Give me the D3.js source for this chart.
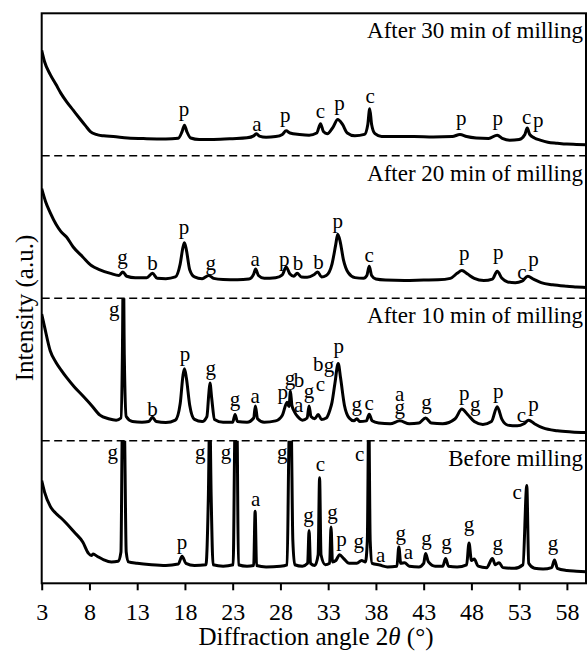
<!DOCTYPE html>
<html>
<head>
<meta charset="utf-8">
<script src="https://cdn.jsdelivr.net/npm/d3@7"></script>
<style>
  body { margin: 0; background: #fff; }
  svg text { font-family: "Liberation Serif", "Times New Roman", serif !important; fill: #000; }
</style>
</head>
<body>
<div id="chart"></div>
<script>
// panel order: top to bottom
const panelTitles = ["After 30 min of milling", "After 20 min of milling", "After 10 min of milling", "Before milling"];

// [2theta, intensity], 0..100 = one panel height
const trace30 = [[3,74],[3.3,66],[3.9,57],[4.5,50],[5.0,44],[5.6,38],[6.3,32],[7.0,26],[7.6,21],[8.1,17],[8.7,15],[9.5,14],[10.5,13.5],[12,12.5],[14,12],[16,11.8],[17.3,12.3],[17.7,17],[17.95,21.5],[18.2,17],[18.6,12.5],[19.5,11.5],[21,11.5],[23,12],[24.5,12.6],[25.2,14],[25.5,15.5],[25.8,13.8],[26.5,13],[27.5,13.5],[28.2,15],[28.6,17.5],[29.0,16],[30,15],[31,14.5],[31.8,16],[32.2,22.5],[32.5,17],[32.9,15.5],[33.5,20],[34.0,25.5],[34.5,22],[35.0,16],[35.8,14],[36.8,15],[37.15,22],[37.35,33],[37.55,22],[37.9,15.5],[38.6,13.5],[40,13.5],[42,13.5],[44,13.2],[46,13.5],[46.8,15],[47.5,13.5],[48.5,12.5],[49.8,12.2],[50.7,14.5],[51.3,12],[52,11],[53,11.5],[53.6,15],[53.85,19.5],[54.1,15],[54.6,12.5],[55.2,11],[56,9.5],[57,8.8],[58,8.2],[59,8],[60,7.8]];

const trace20 = [[3,77],[3.4,68],[3.9,60],[4.5,52],[5.0,47],[5.6,43],[6.3,36],[7.3,29],[8.2,23],[9.1,20],[10.2,17.5],[11.1,16],[11.5,18.5],[11.9,15.5],[12.8,14.5],[14,14.5],[14.6,17.5],[15.1,14],[16,13.8],[17.0,15],[17.5,24],[17.8,36],[17.95,39],[18.15,34],[18.5,20],[19,15],[19.8,13.8],[20.5,16],[21.0,14],[22,13.2],[23.5,13],[24.7,13.5],[25.2,17],[25.4,20.5],[25.7,16],[26.3,14],[27.5,14.5],[28.2,16.5],[28.6,22],[29.0,17],[29.4,15.5],[29.75,17.5],[30.2,15],[30.8,14.8],[31.5,16.5],[31.9,18.5],[32.3,15],[32.8,16],[33.4,24],[33.8,38],[34.0,45],[34.25,40],[34.6,27],[35.1,18],[35.8,14.5],[36.7,14],[37.05,16],[37.3,22.5],[37.55,16],[38,13.5],[39,12.8],[41,12.5],[43,12.8],[44.5,13],[45.8,14],[46.5,17.5],[47.0,19.5],[47.6,17],[48.3,14],[49.3,12.5],[50.2,13.5],[50.7,19],[51.2,14],[51.8,11.5],[52.6,11],[53.3,12],[53.9,15.5],[54.5,13.5],[55.3,11],[56.5,9.5],[58,8.5],[59,8],[60,7.5]];

const trace10 = [[3,89],[3.3,80],[3.9,63],[4.5,55],[5.0,50],[5.6,44.5],[6.4,38],[7.3,31.6],[8.2,25],[9.1,18],[10.0,15.5],[10.8,14.5],[11.3,16],[11.45,60],[11.55,130],[11.65,60],[11.85,17],[12.5,13.5],[13.5,13],[14.2,13.5],[14.6,16.5],[15.0,13.5],[16,12.8],[17.0,14.5],[17.5,26],[17.8,46],[17.95,50.5],[18.15,44],[18.5,25],[19.0,15],[19.8,13.5],[20.3,17],[20.5,33],[20.62,40.5],[20.8,30],[21.1,15],[22,13],[23.0,13],[23.25,18.5],[23.5,13.5],[24.5,13],[25.2,16],[25.38,24.5],[25.6,15.5],[26.3,13],[27.5,14],[28.2,18],[28.7,27],[28.9,24],[29.05,35],[29.2,25],[29.5,20],[29.8,17],[30.3,14.5],[30.8,16],[31.0,24.5],[31.2,17],[31.6,15.5],[31.95,18.5],[32.3,15],[32.8,16],[33.2,22],[33.4,27],[33.7,40],[34.05,54.3],[34.3,44],[34.7,25],[35.2,16],[35.7,14],[36.0,15.5],[36.3,13.5],[37.0,14],[37.3,18.7],[37.6,14],[38.3,12.5],[39.5,12],[40.5,14],[41.5,12],[42.5,12.5],[43.2,16],[43.8,12.5],[45,12],[46.3,15.5],[47.0,22.3],[47.6,18.5],[48.3,13.5],[49.2,11.5],[50.1,13.5],[50.7,23.9],[51.2,15],[51.8,11],[52.8,10.5],[53.5,12],[54.0,14.5],[54.6,12],[55.5,9],[57,7],[58.5,6.2],[60,5.8]];

const trace0 = [[3,72],[3.3,64],[3.9,54],[4.5,49],[5.0,46],[5.6,42],[6.4,36],[7.3,29],[7.9,21],[8.2,19.5],[8.4,20.5],[8.8,19],[9.5,16.5],[10.3,15],[11.0,15.5],[11.3,22],[11.45,110],[11.65,110],[11.85,22],[12.1,15],[13,14],[14.5,13],[16,12.5],[17.3,13.5],[17.7,19],[18.1,14],[19,12.5],[20.2,13],[20.45,60],[20.6,120],[20.75,60],[20.95,13],[22,12],[23.05,13],[23.25,110],[23.45,110],[23.6,13],[24.5,12],[25.2,12.5],[25.35,50.5],[25.5,12.5],[26.5,11.5],[28.0,12],[28.7,13],[28.9,100],[29.1,120],[29.3,30],[29.5,13],[30.3,12],[30.85,14],[31.0,37],[31.15,14],[31.6,12.5],[31.95,20],[32.1,74],[32.25,20],[32.7,13],[33.15,14],[33.3,39.5],[33.45,15],[33.8,16],[34.2,20],[34.6,17.5],[35.2,14],[36.0,14],[36.5,16],[36.9,15],[37.1,30],[37.25,120],[37.4,30],[37.6,14],[38.4,12.8],[39.2,11.5],[40.2,12],[40.4,25.5],[40.6,14],[41.0,14.5],[41.5,12],[42.5,11.5],[43.0,14],[43.2,20.9],[43.5,15],[44.2,12],[45.0,12],[45.3,17.4],[45.6,12],[46.5,11.5],[47.5,13],[47.75,28.3],[48.0,16],[48.3,17],[48.7,12],[49.6,11],[50.2,17.4],[50.5,13],[50.9,14.5],[51.3,11],[52.5,10.5],[53.4,13],[53.8,68.6],[54.0,14],[54.6,10.5],[55.5,10],[56.4,11],[56.7,16.3],[57.0,10.5],[58,9],[59,8.5],[60,8.1]];

// phase labels: [2theta, letter, intensity of text baseline]
const labels30 = [[17.9,"p",28],[25.55,"a",17.7],[28.5,"p",24],[32.2,"c",26.4],[34.2,"p",32.2],[37.4,"c",37],[46.95,"p",21.7],[50.75,"p",21.7],[53.8,"c",22.5],[55.0,"p",20]];
const labels20 = [[11.45,"g",23.8],[14.6,"b",20],[17.9,"p",45],[20.7,"g",20],[25.35,"a",22.4],[28.4,"p",23],[29.85,"b",20],[32.0,"b",20.7],[34.0,"p",49],[37.3,"c",25.4],[47.25,"p",26.6],[50.8,"p",27.8],[53.3,"c",13.7],[54.5,"p",22.4]];
const labels10 = [[10.6,"g",87.8],[14.6,"b",17.6],[18.0,"p",55.7],[20.7,"g",46.4],[23.25,"g",24.6],[25.35,"a",26.2],[28.25,"p",29.3],[29.0,"g",39.4],[29.95,"b",37.5],[29.9,"a",19.9],[31.0,"g",30],[32.2,"c",35.1],[31.95,"b",49.2],[33.1,"g",48],[34.1,"p",61.3],[36.0,"g",21.1],[37.3,"c",21.6],[40.5,"a",28.1],[40.5,"g",18.8],[43.3,"g",22.3],[47.25,"p",28.6],[48.4,"g",21.1],[50.8,"p",30],[53.25,"c",12.9],[54.5,"p",21.1]];
const labels0 = [[10.43,"g",87.4],[17.7,"p",24.4],[19.6,"g",87.4],[22.3,"g",87.4],[25.4,"a",53.9],[28.2,"g",87.4],[30.95,"g",43],[32.2,"c",79],[33.45,"g",44.9],[34.4,"p",26],[36.2,"g",25.1],[36.3,"c",85.6],[38.5,"a",15.1],[40.6,"g",30.7],[41.4,"a",17.4],[43.3,"g",26.7],[45.4,"g",24.4],[47.75,"g",36.7],[50.75,"g",23.2],[52.8,"c",59.3],[56.55,"g",23.2]];

const xTicks = [3, 8, 13, 18, 23, 28, 33, 38, 43, 48, 53, 58];

const traces = [trace30, trace20, trace10, trace0];
const labelSets = [labels30, labels20, labels10, labels0];

var width = 587;
var height = 655;
const margin = {top: 13.3, right: 1, bottom: 71.7, left: 41.7};
const plotW = width - margin.left - margin.right;
const plotH = height - margin.top - margin.bottom;
const panelH = plotH / traces.length;

const svg = d3.select("#chart").append("svg")
    .attr("width", width)
    .attr("height", height);

const g = svg.append("g")
    .attr("transform", "translate(" + margin.left + "," + margin.top + ")");

const x = d3.scaleLinear().domain([3, 60]).range([0, plotW]);

const line = d3.line()
    .x(d => x(d[0]))
    .curve(d3.curveMonotoneX);

traces.forEach((trace, i) => {
    const top = i * panelH;
    const y = d3.scaleLinear().domain([0, 100]).range([top + panelH, top]);

    g.append("clipPath")
        .attr("id", "clip" + i)
        .append("rect")
        .attr("x", 0)
        .attr("y", top)
        .attr("width", plotW)
        .attr("height", panelH);

    g.append("path")
        .datum(trace)
        .attr("clip-path", "url(#clip" + i + ")")
        .attr("fill", "none")
        .attr("stroke", "#000")
        .attr("stroke-width", 3)
        .attr("stroke-linejoin", "round")
        .attr("d", line.y(d => y(d[1])));

    g.append("g")
        .selectAll("text")
        .data(labelSets[i])
        .enter().append("text")
        .attr("x", d => x(d[0]))
        .attr("y", d => y(d[2]))
        .attr("text-anchor", "middle")
        .attr("font-size", 21)
        .text(d => d[1]);

    g.append("text")
        .attr("x", plotW - 3)
        .attr("y", top + 25)
        .attr("text-anchor", "end")
        .attr("font-size", 23)
        .text(panelTitles[i]);

    if (i > 0) {
        g.append("line")
            .attr("x1", 0)
            .attr("x2", plotW)
            .attr("y1", top)
            .attr("y2", top)
            .attr("stroke", "#000")
            .attr("stroke-width", 1.5)
            .attr("stroke-dasharray", "8,4.5");
    }
});

// frame
g.append("rect")
    .attr("width", plotW)
    .attr("height", plotH)
    .attr("fill", "none")
    .attr("stroke", "#000")
    .attr("stroke-width", 2);

const xAxis = g.append("g")
    .attr("transform", "translate(0," + plotH + ")")
    .call(d3.axisBottom(x).tickValues(xTicks).tickSize(7).tickFormat(d3.format("d")));
xAxis.select(".domain").remove();
xAxis.selectAll(".tick line").attr("stroke-width", 2);
xAxis.selectAll(".tick text")
    .attr("y", 37)
    .attr("dy", 0)
    .attr("font-size", 24);

const xTitle = svg.append("text")
    .attr("x", 316)
    .attr("y", 645)
    .attr("text-anchor", "middle")
    .attr("font-size", 25);
xTitle.append("tspan").text("Diffraction angle 2");
xTitle.append("tspan").attr("font-style", "italic").text("θ");
xTitle.append("tspan").text(" (°)");

svg.append("text")
    .attr("transform", "translate(33,308) rotate(-90)")
    .attr("text-anchor", "middle")
    .attr("font-size", 25)
    .text("Intensity (a.u.)");
</script>
</body>
</html>
